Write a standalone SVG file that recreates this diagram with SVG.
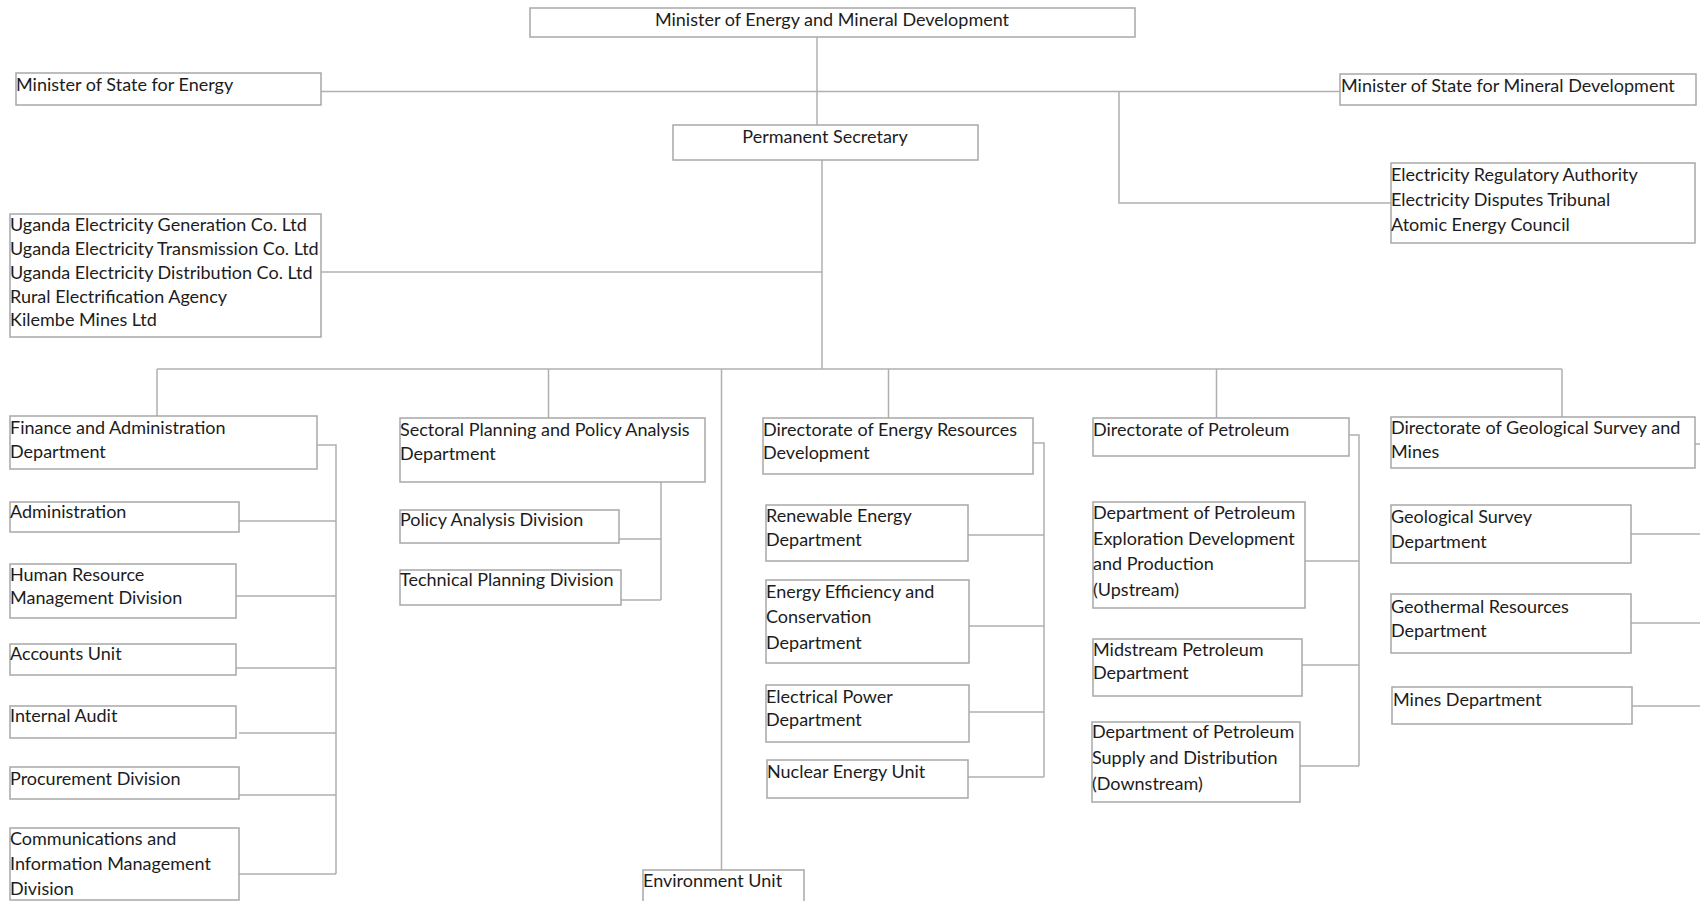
<svg xmlns="http://www.w3.org/2000/svg" width="1700" height="901" viewBox="0 0 1700 901">
<style>
rect.b{fill:#fff;stroke:#a8a8a8;stroke-width:1.5}
text{font-family:Lato,"Liberation Sans",sans-serif;font-size:18px;fill:#1c1c1c}
.c{text-anchor:middle}
#connectors path{fill:none;stroke:#b0b0b0;stroke-width:1.5}
</style>
<rect width="1700" height="901" fill="#fff"/>
<g id="connectors">
<path d="M817 37V125"/>
<path d="M321 91.5H1340"/>
<path d="M1119 91.5V203H1391"/>
<path d="M822 160V369"/>
<path d="M321 272H822"/>
<path d="M157 369H1562"/>
<path d="M157 369V416M548.5 369V418M721.5 369V870M888.5 369V418M1216.5 369V418M1562 369V417"/>
<path d="M317 445H336V874"/>
<path d="M239 521H336M236 596H336M236 668H336M239 733H336M239 795H336M239 874H336"/>
<path d="M661 482V600M619 539H661M621 600H661"/>
<path d="M1033 443H1044V777M968 535H1044M969 626H1044M969 712H1044M968 777H1044"/>
<path d="M1349 435H1359V766M1305 561H1359M1302 665H1359M1300 766H1359"/>
<path d="M1695 444H1700M1631 534H1700M1631 623H1700M1632 706H1700"/>
</g>
<g id="minister"><rect class="b" x="530" y="8" width="605" height="29"/><text class="c" x="832" y="26">Minister of Energy and Mineral Development</text></g>
<g id="mos-energy"><rect class="b" x="16" y="73" width="305" height="32"/><text x="16" y="91">Minister of State for Energy</text></g>
<g id="mos-mineral"><rect class="b" x="1340" y="74" width="356" height="31"/><text x="1341" y="92">Minister of State for Mineral Development</text></g>
<g id="ps"><rect class="b" x="673" y="125" width="305" height="35"/><text class="c" x="825" y="143">Permanent Secretary</text></g>
<g id="regulators"><rect class="b" x="1391" y="163" width="304" height="80"/><text x="1391" y="181">Electricity Regulatory Authority</text><text x="1391" y="206">Electricity Disputes Tribunal</text><text x="1391" y="231">Atomic Energy Council</text></g>
<g id="companies"><rect class="b" x="10" y="214" width="311" height="123"/><text x="10" y="231">Uganda Electricity Generation Co. Ltd</text><text x="10" y="255">Uganda Electricity Transmission Co. Ltd</text><text x="10" y="279">Uganda Electricity Distribution Co. Ltd</text><text x="10" y="303">Rural Electrification Agency</text><text x="10" y="326">Kilembe Mines Ltd</text></g>
<g id="finance"><rect class="b" x="10" y="416" width="307" height="53"/><text x="10" y="434">Finance and Administration</text><text x="10" y="458">Department</text></g>
<g id="administration"><rect class="b" x="10" y="502" width="229" height="30"/><text x="10" y="518">Administration</text></g>
<g id="hr"><rect class="b" x="10" y="564" width="226" height="54"/><text x="10" y="581">Human Resource</text><text x="10" y="604">Management Division</text></g>
<g id="accounts"><rect class="b" x="10" y="644" width="226" height="31"/><text x="10" y="660">Accounts Unit</text></g>
<g id="audit"><rect class="b" x="10" y="706" width="226" height="32"/><text x="10" y="722">Internal Audit</text></g>
<g id="procurement"><rect class="b" x="10" y="767" width="229" height="32"/><text x="10" y="785">Procurement Division</text></g>
<g id="communications"><rect class="b" x="10" y="828" width="229" height="72"/><text x="10" y="845">Communications and</text><text x="10" y="870">Information Management</text><text x="10" y="895">Division</text></g>
<g id="sectoral"><rect class="b" x="400" y="418" width="305" height="64"/><text x="400" y="436">Sectoral Planning and Policy Analysis</text><text x="400" y="460">Department</text></g>
<g id="policy"><rect class="b" x="400" y="510" width="219" height="33"/><text x="400" y="526">Policy Analysis Division</text></g>
<g id="technical"><rect class="b" x="400" y="570" width="221" height="35"/><text x="400" y="586">Technical Planning Division</text></g>
<g id="environment"><rect class="b" x="643" y="870" width="161" height="35"/><text x="643" y="887">Environment Unit</text></g>
<g id="energy-dir"><rect class="b" x="763" y="418" width="270" height="56"/><text x="763" y="436">Directorate of Energy Resources</text><text x="763" y="459">Development</text></g>
<g id="renewable"><rect class="b" x="766" y="505" width="202" height="56"/><text x="766" y="522">Renewable Energy</text><text x="766" y="546">Department</text></g>
<g id="efficiency"><rect class="b" x="766" y="580" width="203" height="83"/><text x="766" y="598">Energy Efficiency and</text><text x="766" y="623">Conservation</text><text x="766" y="649">Department</text></g>
<g id="electrical"><rect class="b" x="766" y="685" width="203" height="57"/><text x="766" y="703">Electrical Power</text><text x="766" y="726">Department</text></g>
<g id="nuclear"><rect class="b" x="767" y="760" width="201" height="38"/><text x="767" y="778">Nuclear Energy Unit</text></g>
<g id="petroleum-dir"><rect class="b" x="1093" y="418" width="256" height="38"/><text x="1093" y="436">Directorate of Petroleum</text></g>
<g id="upstream"><rect class="b" x="1093" y="502" width="212" height="106"/><text x="1093" y="519">Department of Petroleum</text><text x="1093" y="545">Exploration Development</text><text x="1093" y="570">and Production</text><text x="1093" y="596">(Upstream)</text></g>
<g id="midstream"><rect class="b" x="1093" y="639" width="209" height="57"/><text x="1093" y="656">Midstream Petroleum</text><text x="1093" y="679">Department</text></g>
<g id="downstream"><rect class="b" x="1092" y="722" width="208" height="80"/><text x="1092" y="738">Department of Petroleum</text><text x="1092" y="764">Supply and Distribution</text><text x="1092" y="790">(Downstream)</text></g>
<g id="geo-dir"><rect class="b" x="1391" y="417" width="304" height="51"/><text x="1391" y="434">Directorate of Geological Survey and</text><text x="1391" y="458">Mines</text></g>
<g id="geological"><rect class="b" x="1391" y="505" width="240" height="58"/><text x="1391" y="523">Geological Survey</text><text x="1391" y="548">Department</text></g>
<g id="geothermal"><rect class="b" x="1391" y="594" width="240" height="59"/><text x="1391" y="613">Geothermal Resources</text><text x="1391" y="637">Department</text></g>
<g id="mines"><rect class="b" x="1392" y="687" width="240" height="37"/><text x="1393" y="706">Mines Department</text></g>
</svg>
